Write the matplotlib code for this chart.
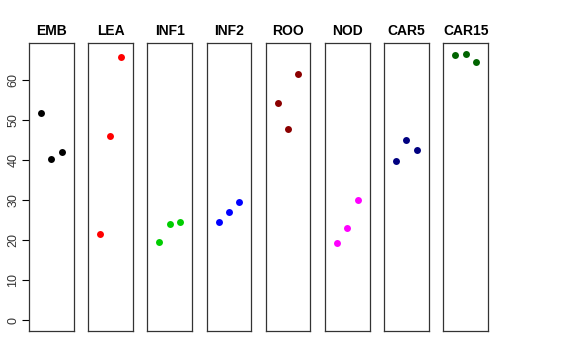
import matplotlib.pyplot as plt

# groups and the three measurements in each
groups = ["EMB", "LEA", "INF1", "INF2", "ROO", "NOD", "CAR5", "CAR15"]
emb = [51.9, 40.4, 42.1]
lea = [21.5, 46.0, 65.9]
inf1 = [19.5, 24.0, 24.5]
inf2 = [24.6, 27.1, 29.5]
roo = [54.3, 47.9, 61.7]
nod = [19.2, 23.0, 30.0]
car5 = [39.7, 45.2, 42.6]
car15 = [66.3, 66.7, 64.7]
valores = [emb, lea, inf1, inf2, roo, nod, car5, car15]
cores = ["black", "red", "#00CD00", "blue", "darkred", "magenta", "navy", "darkgreen"]
yticks = [0, 10, 20, 30, 40, 50, 60]

plt.rcParams['font.family'] = ['Liberation Sans', 'DejaVu Sans']

fig = plt.figure(figsize=(5.76, 3.6), dpi=100)

W, H = 576, 360
esq0, larg, passo = 29, 44.5, 59.2
topo, base = 43, 330.7

ymax = max(max(v) for v in valores)
ylim = (-0.04 * ymax, ymax * 1.04)

for i, (nome, v, cor) in enumerate(zip(groups, valores, cores)):
    esq = esq0 + i * passo
    ax = fig.add_axes([esq / W, 1 - base / H, larg / W, (base - topo) / H])
    ax.plot([1, 2, 3], v, "o", color=cor, markersize=5, markeredgewidth=0)
    ax.set_xlim(-0.16, 4.16)
    ax.set_ylim(*ylim)
    ax.set_xticks([])
    for s in ax.spines.values():
        s.set_color("#333333")
        s.set_linewidth(0.9)
    ax.set_title(nome, fontsize=10, fontweight="bold", pad=6)
    if i == 0:
        ax.set_yticks(yticks)
        ax.tick_params(axis="y", length=5, width=0.8, labelsize=9, pad=2,
                       labelcolor="#333333")
        for t in ax.get_yticklabels():
            t.set_rotation(90)
            t.set_va("center")
    else:
        ax.set_yticks([])

plt.savefig("out.png", dpi=100)
